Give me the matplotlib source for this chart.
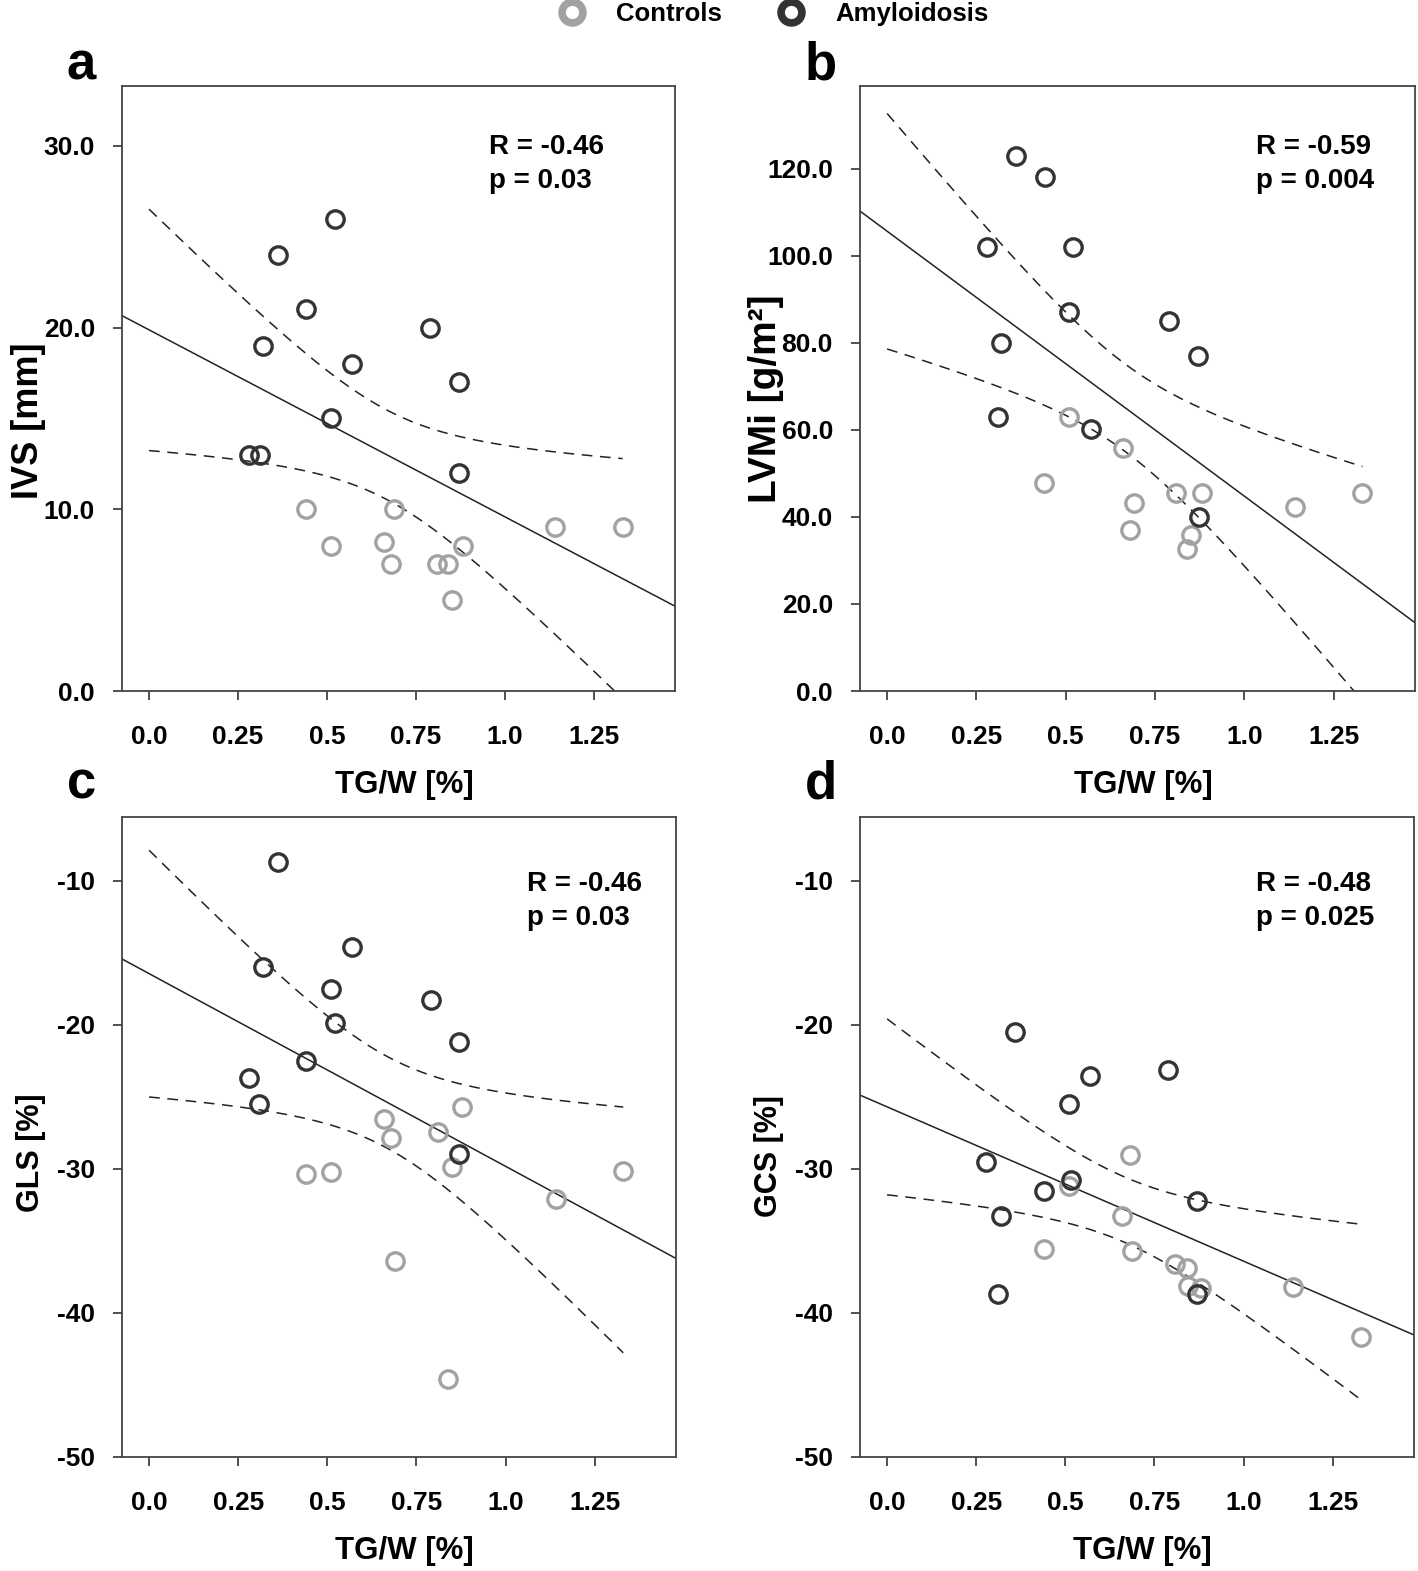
import numpy as np
import matplotlib.pyplot as plt
from matplotlib.lines import Line2D

plt.rcParams['font.family'] = ['Liberation Sans', 'DejaVu Sans']
plt.rcParams['font.weight'] = 'bold'

# groups
groups = ['Controls', 'Amyloidosis']
colors = ['#a2a2a2', '#333333']

# panel a: IVS vs TG/W
a_ctrl_x = [0.44, 0.689, 0.511, 0.66, 0.883, 0.68, 0.81, 0.84, 0.85, 1.141, 1.331]
a_ctrl_y = [10.0, 10.0, 8.0, 8.2, 8.0, 7.0, 7.0, 7.0, 5.0, 9.0, 9.0]
a_amy_x = [0.522, 0.362, 0.44, 0.32, 0.79, 0.571, 0.87, 0.512, 0.281, 0.312, 0.87]
a_amy_y = [26.0, 24.0, 21.0, 19.0, 20.0, 18.0, 17.0, 15.0, 13.0, 13.0, 12.0]

# panel b: LVMi vs TG/W
b_ctrl_x = [0.509, 0.66, 0.44, 0.809, 0.882, 1.141, 1.331, 0.691, 0.681, 0.85, 0.84]
b_ctrl_y = [62.9, 55.9, 47.9, 45.4, 45.5, 42.2, 45.4, 43.1, 36.9, 35.9, 32.7]
b_amy_x = [0.362, 0.441, 0.28, 0.521, 0.509, 0.79, 0.32, 0.87, 0.31, 0.571, 0.873]
b_amy_y = [123.0, 118.0, 102.0, 102.0, 87.0, 85.0, 79.9, 76.9, 62.9, 60.1, 39.9]

# panel c: GLS vs TG/W
c_ctrl_x = [0.879, 0.659, 0.81, 0.679, 0.849, 0.44, 0.511, 1.33, 1.141, 0.69, 0.839]
c_ctrl_y = [-25.7, -26.5, -27.4, -27.85, -29.85, -30.35, -30.2, -30.15, -32.1, -36.4, -44.6]
c_amy_x = [0.361, 0.57, 0.319, 0.511, 0.79, 0.521, 0.868, 0.439, 0.279, 0.309, 0.87]
c_amy_y = [-8.7, -14.6, -16.0, -17.5, -18.3, -19.85, -21.15, -22.5, -23.65, -25.5, -28.95]

# panel d: GCS vs TG/W
d_ctrl_x = [0.68, 0.509, 0.658, 0.439, 0.688, 0.807, 0.84, 0.844, 0.88, 1.138, 1.328]
d_ctrl_y = [-29.05, -31.2, -33.3, -35.55, -35.7, -36.6, -36.9, -38.1, -38.25, -38.2, -41.7]
d_amy_x = [0.36, 0.569, 0.788, 0.509, 0.278, 0.517, 0.439, 0.868, 0.319, 0.31, 0.868]
d_amy_y = [-20.5, -23.55, -23.15, -25.5, -29.5, -30.75, -31.55, -32.2, -33.3, -38.7, -38.7]

letters = ['a', 'b', 'c', 'd']
ylabels = ['IVS [mm]', 'LVMi [g/m²]', 'GLS [%]', 'GCS [%]']
r_texts = ['R = -0.46', 'R = -0.59', 'R = -0.46', 'R = -0.48']
p_texts = ['p = 0.03', 'p = 0.004', 'p = 0.03', 'p = 0.025']
yticks = [[0, 10, 20, 30], [0, 20, 40, 60, 80, 100, 120],
          [-50, -40, -30, -20, -10], [-50, -40, -30, -20, -10]]
ytick_fmt = ['{:.1f}', '{:.1f}', '{:.0f}', '{:.0f}']
ylims = [(0, 33.3), (0, 139), (-50, -5.56), (-50, -5.56)]
xticks = [0.0, 0.25, 0.5, 0.75, 1.0, 1.25]
xtick_labels = ['0.0', '0.25', '0.5', '0.75', '1.0', '1.25']

data = [(a_ctrl_x, a_ctrl_y, a_amy_x, a_amy_y),
        (b_ctrl_x, b_ctrl_y, b_amy_x, b_amy_y),
        (c_ctrl_x, c_ctrl_y, c_amy_x, c_amy_y),
        (d_ctrl_x, d_ctrl_y, d_amy_x, d_amy_y)]

W, H = 1418, 1571
fig = plt.figure(figsize=(W / 100, H / 100), dpi=100)

# axes boxes in pixels: left, right, top, bottom
boxes = [(122, 675, 86, 691), (860, 1415, 86, 691),
         (122, 676, 817, 1457), (860, 1414, 817, 1457)]
text_pos = [(0.663, 0.92), (0.714, 0.92), (0.731, 0.916), (0.714, 0.916)]
ylab_y = [0.447, 0.483, 0.475, 0.47]
ylab_size = [26, 28, 22, 22]
letter_dy = [6, 6, 18, 18]

t_crit = 2.086  # t(0.975, df=20)

for i in range(4):
    l, r, t, b = boxes[i]
    ax = fig.add_axes([l / W, 1 - b / H, (r - l) / W, (b - t) / H])
    cx, cy, ax_x, ax_y = [np.array(v) for v in data[i]]

    # linear fit on all subjects + 95% CI of the mean
    x_all = np.concatenate([cx, ax_x])
    y_all = np.concatenate([cy, ax_y])
    n = len(x_all)
    k, b0 = np.polyfit(x_all, y_all, 1)
    resid = y_all - (k * x_all + b0)
    s = np.sqrt(np.sum(resid ** 2) / (n - 2))
    sxx = np.sum((x_all - x_all.mean()) ** 2)

    xlim = (-0.076, 1.478)
    xl = np.linspace(xlim[0], xlim[1], 50)
    ax.plot(xl, k * xl + b0, color='#222222', lw=1.1, zorder=2)
    xc = np.linspace(0, x_all.max(), 100)
    half = t_crit * s * np.sqrt(1 / n + (xc - x_all.mean()) ** 2 / sxx)
    for sign in (1, -1):
        ax.plot(xc, k * xc + b0 + sign * half, color='#222222', lw=1.1,
                dashes=(7, 5), zorder=2)

    ax.plot(cx, cy, 'o', ms=12.5, mfc='none', mec=colors[0], mew=2.4, zorder=3)
    ax.plot(ax_x, ax_y, 'o', ms=12.5, mfc='none', mec=colors[1], mew=2.4, zorder=4)

    ax.set_xlim(xlim)
    ax.set_ylim(ylims[i])
    ax.set_xticks(xticks)
    ax.set_xticklabels(xtick_labels)
    ax.set_yticks(yticks[i])
    ax.set_yticklabels([ytick_fmt[i].format(v) for v in yticks[i]])
    ax.tick_params(axis='both', direction='out', length=6.5, width=1.2,
                   color='#333333', labelsize=19)
    ax.tick_params(axis='x', pad=18)
    ax.tick_params(axis='y', pad=13)
    for sp in ax.spines.values():
        sp.set_color('#444444')
        sp.set_linewidth(1.3)

    ax.set_xlabel('TG/W [%]', fontsize=22.5, fontweight='bold')
    ax.xaxis.set_label_coords(0.51, -0.13 if i < 2 else -0.124)
    ax.set_ylabel(ylabels[i], fontsize=ylab_size[i], fontweight='bold')
    ax.yaxis.set_label_coords(-0.137, ylab_y[i])

    ax.text(text_pos[i][0], text_pos[i][1], r_texts[i] + '\n' + p_texts[i],
            transform=ax.transAxes, ha='left', va='top', fontsize=20,
            fontweight='bold', linespacing=1.4)

    fig.text((l - 55) / W, 1 - (t - letter_dy[i]) / H, letters[i], fontsize=38,
             fontweight='bold', ha='left', va='baseline')

handles = [Line2D([], [], ls='none', marker='o', ms=15, mfc='none', mec=c, mew=5.5)
           for c in colors]
fig.legend(handles, groups, loc='center left',
           bbox_to_anchor=(559.5 / W, 1 - 14 / H), ncol=2, frameon=False,
           fontsize=18.5, handlelength=1.0, handletextpad=1.2, columnspacing=2.2,
           borderpad=0, borderaxespad=0)

fig.savefig('out.png', dpi=100, facecolor='white')
